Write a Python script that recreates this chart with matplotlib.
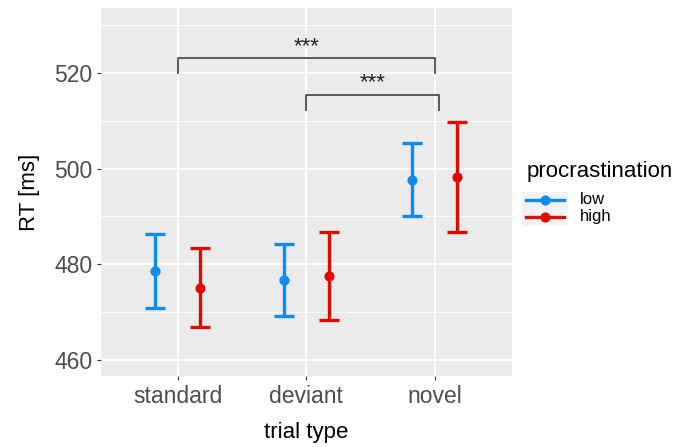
import matplotlib
matplotlib.use("Agg")
import matplotlib.pyplot as plt
from matplotlib.lines import Line2D
from matplotlib.patches import Rectangle
import numpy as np

plt.rcParams['font.family'] = ['Liberation Sans', 'DejaVu Sans']

# values (ms)
trial_types = ["standard", "deviant", "novel"]
groups = ["low", "high"]
colors = {"low": "#0C8CF0", "high": "#E00B00"}
means = {"low": [478.6, 476.7, 497.7],
         "high": [475.1, 477.5, 498.3]}
upper = {"low": [486.4, 484.2, 505.4],
         "high": [483.3, 486.7, 509.8]}
lower = {"low": [470.9, 469.1, 490.1],
         "high": [466.9, 468.3, 486.8]}

# significance brackets: (x left, x right, bar y, tick bottom y, label y, label)
brackets = [(1, 3, 523.1, 520.0, 525.6, "***"),
            (2, 3.03, 515.4, 512.2, 517.9, "***")]

fig = plt.figure(figsize=(6.83, 4.47), dpi=100)
ax = fig.add_axes([0.1474, 0.1578, 0.6022, 0.8242])
ax.set_facecolor("#EBEBEB")

x = np.arange(1, len(trial_types) + 1)
offsets = {"low": -0.176, "high": 0.176}
for g in groups:
    m = np.array(means[g])
    err = [m - np.array(lower[g]), np.array(upper[g]) - m]
    ax.errorbar(x + offsets[g], m, yerr=err, fmt="o", color=colors[g],
                ms=6.3, lw=2.4, capsize=7.4, capthick=2.4, zorder=3)

for x0, x1, yb, yt, yl, lab in brackets:
    ax.plot([x0, x0, x1, x1], [yt, yb, yb, yt], color="#5A5A5A", lw=1.4, zorder=3)
    ax.text((x0 + x1) / 2, yl, lab, ha="center", va="center",
            fontsize=16, color="#222222")

ax.set_xlim(0.4, 3.6)
ax.set_ylim(456.5, 533.6)
ax.set_xticks(x)
ax.set_xticklabels(trial_types)
ax.set_yticks([460, 480, 500, 520])
ax.set_yticks([470, 490, 510, 530], minor=True)
ax.grid(which="major", color="white", lw=1.3)
ax.grid(which="minor", axis="y", color="white", lw=0.6)
ax.set_axisbelow(True)
for s in ax.spines.values():
    s.set_visible(False)
ax.tick_params(axis="both", which="major", length=3, color="#333333",
               labelsize=16.5, labelcolor="#4D4D4D", pad=3)
ax.tick_params(axis="y", which="minor", length=0)
ax.set_xlabel("trial type", fontsize=16, labelpad=10)
ax.set_ylabel("RT [ms]", fontsize=16, labelpad=10)

# legend drawn like a ggplot guide
fig.text(527 / 683, 1 - 172 / 447, "procrastination", fontsize=16,
         ha="left", va="center")
fig.add_artist(Rectangle((522 / 683, 1 - 226 / 447), 46 / 683, 34 / 447,
                         transform=fig.transFigure, facecolor="#F2F2F2",
                         edgecolor="none"))
for i, g in enumerate(groups):
    yk = 1 - (200 + i * 16.5) / 447
    fig.add_artist(Line2D([526 / 683, 564 / 683], [yk, yk], color=colors[g],
                          lw=2.4, transform=fig.transFigure))
    fig.add_artist(Line2D([545 / 683], [yk], color=colors[g], marker="o", ms=6.3,
                          transform=fig.transFigure))
    fig.text(580 / 683, yk, g, fontsize=12, ha="left", va="center")

fig.savefig("out.png", dpi=100)
